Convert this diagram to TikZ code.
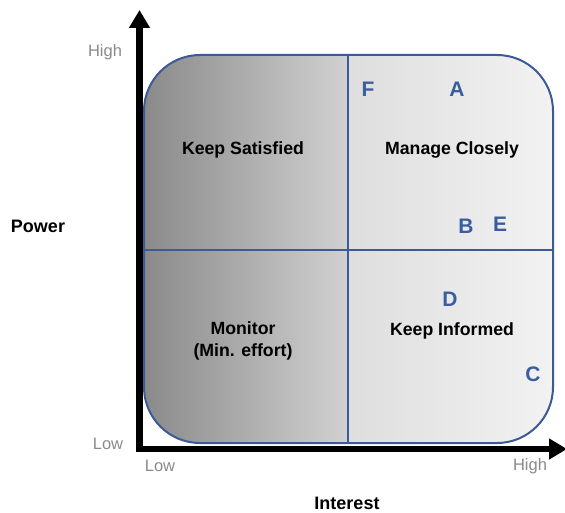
\documentclass[tikz,border=0pt]{standalone}
\usepackage{fontspec}
\setmainfont{Liberation Sans}
\usetikzlibrary{arrows.meta}
\definecolor{bord}{HTML}{3C5A96}
\definecolor{lett}{HTML}{3A5DA0}
\definecolor{axlab}{HTML}{8A8A8A}
\begin{document}
\begin{tikzpicture}[x=1pt,y=-1pt,
  quad/.style={font=\fontsize{17.7}{22}\selectfont\bfseries, text=black, align=center, inner sep=0pt},
  lettr/.style={font=\fontsize{21}{24}\selectfont\bfseries, text=lett, inner sep=0pt},
  axl/.style={font=\fontsize{16.5}{20}\selectfont, text=axlab, inner sep=0pt},
  axtitle/.style={font=\fontsize{18}{22}\selectfont\bfseries, text=black, inner sep=0pt},
  divider/.style={draw=bord, line width=2pt},
  axisline/.style={line width=6.5pt, black, line join=miter, {Triangle[length=18pt,width=20pt]}-{Triangle[length=18pt,width=20pt]}}]
\useasboundingbox (0,0) rectangle (565,513);
% box
\begin{scope}
\clip[rounded corners=56pt] (144,55) rectangle (553,443);
\shade[left color=black!46, right color=black!18] (144,55) rectangle (348,443);
\shade[left color=black!13, right color=black!5] (348,55) rectangle (553,443);
\end{scope}
\draw[bord, line width=2pt, rounded corners=56pt] (144,55) rectangle (553,443);
\coordinate (vt) at (348,55);
\coordinate (vb) at (348,443);
\coordinate (hl) at (144,250);
\coordinate (hr) at (553,250);
\draw[divider] (vt) -- (vb);
\draw[divider] (hl) -- (hr);
% axes
\coordinate (ytip) at (139.5,10);
\coordinate (origin) at (139.5,449);
\coordinate (xtip) at (567,449);
\draw[axisline] (ytip) -- (origin) -- (xtip);
% quadrant labels
\node[quad] (ks) at (243,150) {Keep Satisfied};
\node[quad] (mc) at (452,150) {Manage Closely};
\node[quad] (mo) at (243,341) {Monitor\\(Min. effort)};
\node[quad] (ki) at (452,331) {Keep Informed};
% letters
\node[lettr] (F) at (368,89) {F};
\node[lettr] (A) at (457,89) {A};
\node[lettr] (B) at (466,226) {B};
\node[lettr] (E) at (500,224) {E};
\node[lettr] (D) at (450,299) {D};
\node[lettr] (C) at (533,374) {C};
% axis labels
\node[axl] (yh) at (105,52) {High};
\node[axl] (yl) at (108,444) {Low};
\node[axl] (xl) at (160,466) {Low};
\node[axl] (xh) at (530,466) {High};
\node[axtitle] (pw) at (38,226) {Power};
\node[axtitle] (in) at (347,503) {Interest};
\end{tikzpicture}
\end{document}
